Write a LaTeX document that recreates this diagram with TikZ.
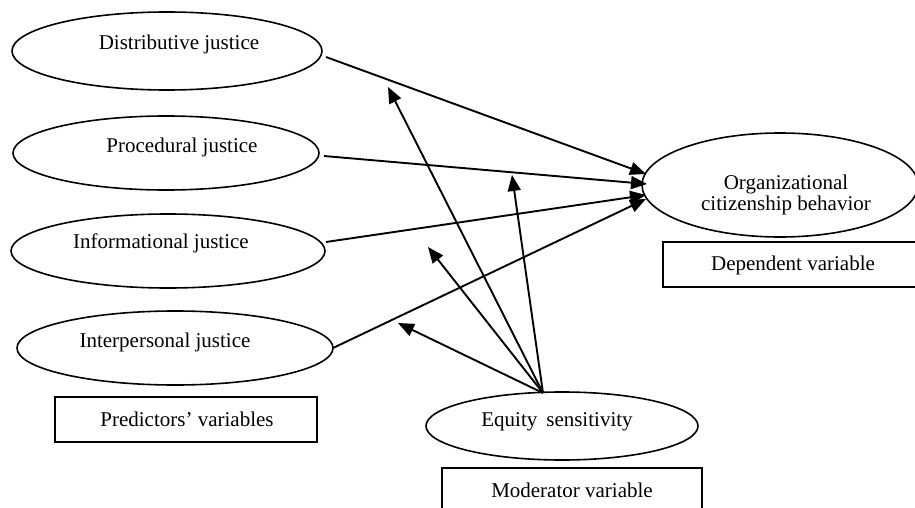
\documentclass[tikz,border=0pt]{standalone}
\usepackage{fontspec}
\setmainfont{Liberation Serif}
\usetikzlibrary{shapes.geometric,arrows.meta}
\begin{document}
\begin{tikzpicture}[x=1pt,y=-1pt,
  conn/.style={line width=1.9pt,-{Triangle[length=16pt,width=13pt]}},
  oval/.style={draw,ellipse,line width=1.6pt,inner sep=0pt},
  lbl/.style={font=\fontsize{21}{24}\selectfont,inner sep=0pt,align=center},
  boxv/.style={draw,line width=1.6pt}]
\clip (0,0) rectangle (915,508);
\fill[white] (0,0) rectangle (915,508);
% predictor ellipses
\node[oval,minimum width=310pt,minimum height=78pt] (dist) at (167,51) {};
\node[oval,minimum width=306pt,minimum height=74pt] (proc) at (166,153) {};
\node[oval,minimum width=314pt,minimum height=74pt] (info) at (168,251) {};
\node[oval,minimum width=316pt,minimum height=74pt] (inter) at (175,348) {};
\node[lbl] (tdist) at (179,44) {Distributive justice};
\node[lbl] (tproc) at (182,147) {Procedural justice};
\node[lbl] (tinfo) at (161,243) {Informational justice};
\node[lbl] (tinter) at (165,342) {Interpersonal justice};
% dependent
\node[oval,minimum width=276pt,minimum height=104pt] (ocb) at (780,185) {};
\node[lbl] (tocb) at (786,195) {Organizational\\[-3pt]citizenship behavior};
% moderator
\node[oval,minimum width=272pt,minimum height=68pt] (eq) at (562,426) {};
\node[lbl] (teq) at (557,422) {Equity\hspace{9pt}sensitivity};
% boxes
\draw[boxv] (55,397) rectangle (317,442);
\node[lbl] (tpred) at (187,419) {Predictors’ variables};
\draw[boxv] (663,242) rectangle (930,287);
\node[lbl] (tdep) at (793,265) {Dependent variable};
\draw[boxv] (442,468) rectangle (702,530);
\node[lbl] (tmod) at (572,490) {Moderator variable};
% connector endpoints
\coordinate (d1) at (326,57);
\coordinate (p1) at (324,156);
\coordinate (i1) at (326,242);
\coordinate (n1) at (333,348);
\coordinate (o1) at (646,174);
\coordinate (o2) at (647,184);
\coordinate (o3) at (646,195);
\coordinate (o4) at (646,199);
\coordinate (e0) at (543,393);
\coordinate (m1) at (388,87);
\coordinate (m2) at (512,175);
\coordinate (m3) at (428,247);
\coordinate (m4) at (398,323);
\draw[conn] (d1) -- (o1);
\draw[conn] (p1) -- (o2);
\draw[conn] (i1) -- (o3);
\draw[conn] (n1) -- (o4);
\draw[conn] (e0) -- (m1);
\draw[conn] (e0) -- (m2);
\draw[conn] (e0) -- (m3);
\draw[conn] (e0) -- (m4);
\end{tikzpicture}
\end{document}
